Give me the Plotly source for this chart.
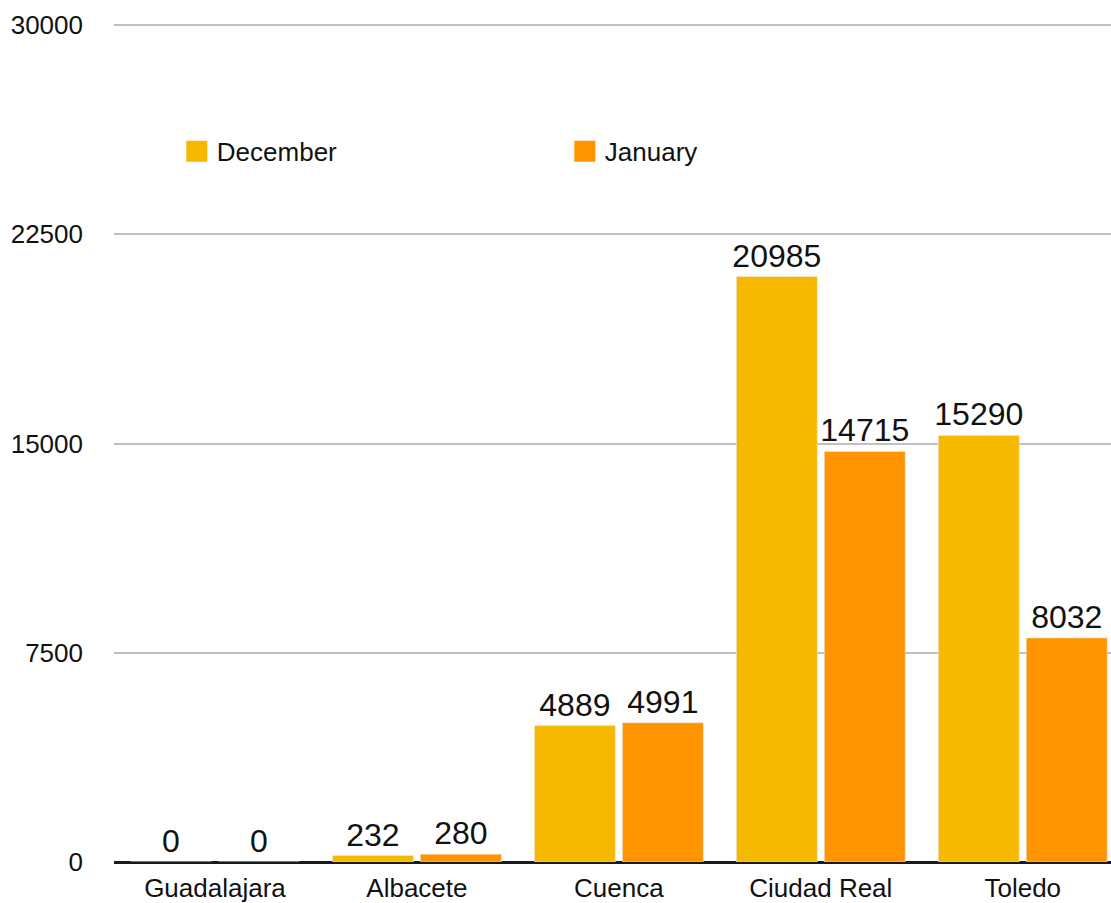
import plotly.graph_objects as go

categories = ["Guadalajara", "Albacete", "Cuenca", "Ciudad Real", "Toledo"]
december = [0, 232, 4889, 20985, 15290]
january = [0, 280, 4991, 14715, 8032]
y_ticks = [0, 7500, 15000, 22500, 30000]

c_dec = "#F6B900"
c_jan = "#FF9300"
font_family = "Liberation Sans, Arial, Helvetica, sans-serif"

fig = go.Figure()
fig.add_trace(go.Bar(name="December", x=categories, y=december, marker_color=c_dec,
                     text=[str(v) for v in december], textposition="outside",
                     textfont=dict(size=32, color="#111111"), cliponaxis=False,
                     constraintext="none", showlegend=False, legendgroup="dec"))
fig.add_trace(go.Bar(name="January", x=categories, y=january, marker_color=c_jan,
                     text=[str(v) for v in january], textposition="outside",
                     textfont=dict(size=32, color="#111111"), cliponaxis=False,
                     constraintext="none", showlegend=False, legendgroup="jan"))
# legend entries with larger square swatches
fig.add_trace(go.Scatter(name="December", x=[None], y=[None], mode="markers",
                         marker=dict(symbol="square", size=16, color=c_dec,
                                     line=dict(color=c_dec, width=5)),
                         legendgroup="dec", hoverinfo="skip"))
fig.add_trace(go.Scatter(name="January", x=[None], y=[None], mode="markers",
                         marker=dict(symbol="square", size=16, color=c_jan,
                                     line=dict(color=c_jan, width=5)),
                         legendgroup="jan", hoverinfo="skip"))

fig.update_layout(
    width=1111, height=903,
    margin=dict(l=114, r=0, t=22, b=41, pad=0),
    paper_bgcolor="white", plot_bgcolor="white",
    font=dict(family=font_family, size=26, color="#111111"),
    barmode="group", bargap=0.129, bargroupgap=0.08,
    showlegend=True,
    legend=dict(orientation="h", x=0.063, y=0.846, xanchor="left", yanchor="middle",
                font=dict(size=26, color="#111111"), entrywidth=343,
                bgcolor="rgba(0,0,0,0)", itemclick=False),
    xaxis=dict(range=[-0.5, 4.437], showgrid=False, showline=False, zeroline=False,
               ticks="", tickfont=dict(size=26), ticklabelstandoff=8),
    yaxis=dict(range=[0, 30108], tickvals=y_ticks, ticktext=[str(v) for v in y_ticks],
               showgrid=True, gridcolor="#C0C0C0", gridwidth=2,
               zeroline=True, zerolinecolor="#1a1a1a", zerolinewidth=3,
               showline=False, ticks="", tickfont=dict(size=26),
               ticklabelstandoff=30),
)

fig.write_html("out.html", config={"displayModeBar": False},
               post_script="document.body.style.margin='0px';")
